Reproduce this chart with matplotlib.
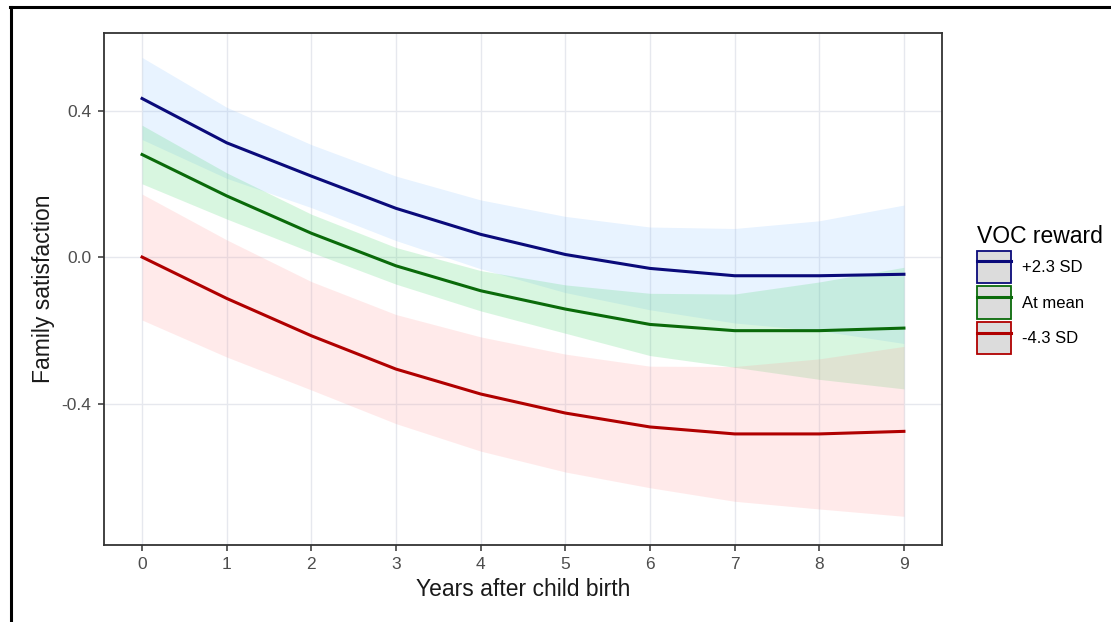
import matplotlib
matplotlib.use("Agg")
import matplotlib.pyplot as plt
from matplotlib.lines import Line2D
from matplotlib.patches import Patch
import numpy as np

plt.rcParams['font.family'] = ['Liberation Sans', 'DejaVu Sans']

# years after child birth
years = [0, 1, 2, 3, 4, 5, 6, 7, 8, 9]

# predicted family satisfaction per VOC reward level
high_fit = [0.434, 0.313, 0.222, 0.134, 0.063, 0.008, -0.030, -0.050, -0.050, -0.046]
high_hw = [0.112, 0.097, 0.086, 0.088, 0.094, 0.104, 0.113, 0.129, 0.150, 0.189]

mean_fit = [0.281, 0.168, 0.066, -0.023, -0.091, -0.141, -0.183, -0.200, -0.200, -0.193]
mean_hw = [0.080, 0.063, 0.052, 0.050, 0.055, 0.066, 0.085, 0.100, 0.133, 0.166]

low_fit = [0.001, -0.112, -0.214, -0.305, -0.373, -0.425, -0.463, -0.482, -0.482, -0.475]
low_hw = [0.172, 0.160, 0.148, 0.149, 0.156, 0.161, 0.166, 0.184, 0.205, 0.232]

labels = ['+2.3 SD', 'At mean', '-4.3 SD']
line_cols = ['#0a0a7a', '#0a6a0a', '#b00000']
fill_cols = ['#8cc4ff', '#3fd466', '#ff9a9a']

fig = plt.figure(figsize=(11.11, 6.22), dpi=100)
ax = fig.add_axes([0.0936, 0.124, 0.7543, 0.823])

x = np.array(years)
series = [(high_fit, high_hw), (mean_fit, mean_hw), (low_fit, low_hw)]
for (fit, hw), lc, fc in zip(series, line_cols, fill_cols):
    fit = np.array(fit)
    hw = np.array(hw)
    ax.fill_between(x, fit - hw, fit + hw, color=fc, alpha=0.2, lw=0, zorder=2)
for (fit, hw), lc in zip(series, line_cols):
    ax.plot(x, fit, color=lc, lw=2.2, zorder=3)

ax.set_xlim(-0.45, 9.45)
ax.set_ylim(-0.785, 0.613)
ax.set_xticks(years)
ax.set_yticks([-0.4, 0.0, 0.4])
ax.set_yticklabels(['-0.4', '0.0', '0.4'])
ax.grid(True, color='#e6e8ee', lw=1.0, zorder=0)
ax.set_axisbelow(True)
for s in ax.spines.values():
    s.set_color('#333333')
    s.set_linewidth(1.3)
ax.tick_params(axis='both', length=4, width=1.1, color='#333333',
               labelsize=12.5, labelcolor='#4d4d4d', pad=5)

ax.set_xlabel('Years after child birth', fontsize=16.5, color='#1a1a1a', labelpad=4)
ax.set_ylabel('Family satisfaction', fontsize=16.5, color='#1a1a1a', labelpad=5)

handles = []
for lc in line_cols:
    handles.append((Patch(facecolor='#dcdcdc', edgecolor=lc, lw=1.3),
                    Line2D([], [], color=lc, lw=2.2)))
fig.legend(handles, labels, title='VOC reward', loc='upper left',
           bbox_to_anchor=(0.879, 0.639), frameon=False, fontsize=12,
           title_fontsize=16.5, handlelength=2.05, handleheight=2.6,
           labelspacing=0.2, handletextpad=0.7, borderpad=0,
           borderaxespad=0, alignment='left')

# outer frame (top and left edges only visible)
fig.add_artist(Line2D([0.009, 1.0], [0.988, 0.988], color='black', lw=2.2,
                      transform=fig.transFigure))
fig.add_artist(Line2D([0.010, 0.010], [0.0, 0.988], color='black', lw=2.2,
                      transform=fig.transFigure))

fig.savefig('out.png', dpi=100)
